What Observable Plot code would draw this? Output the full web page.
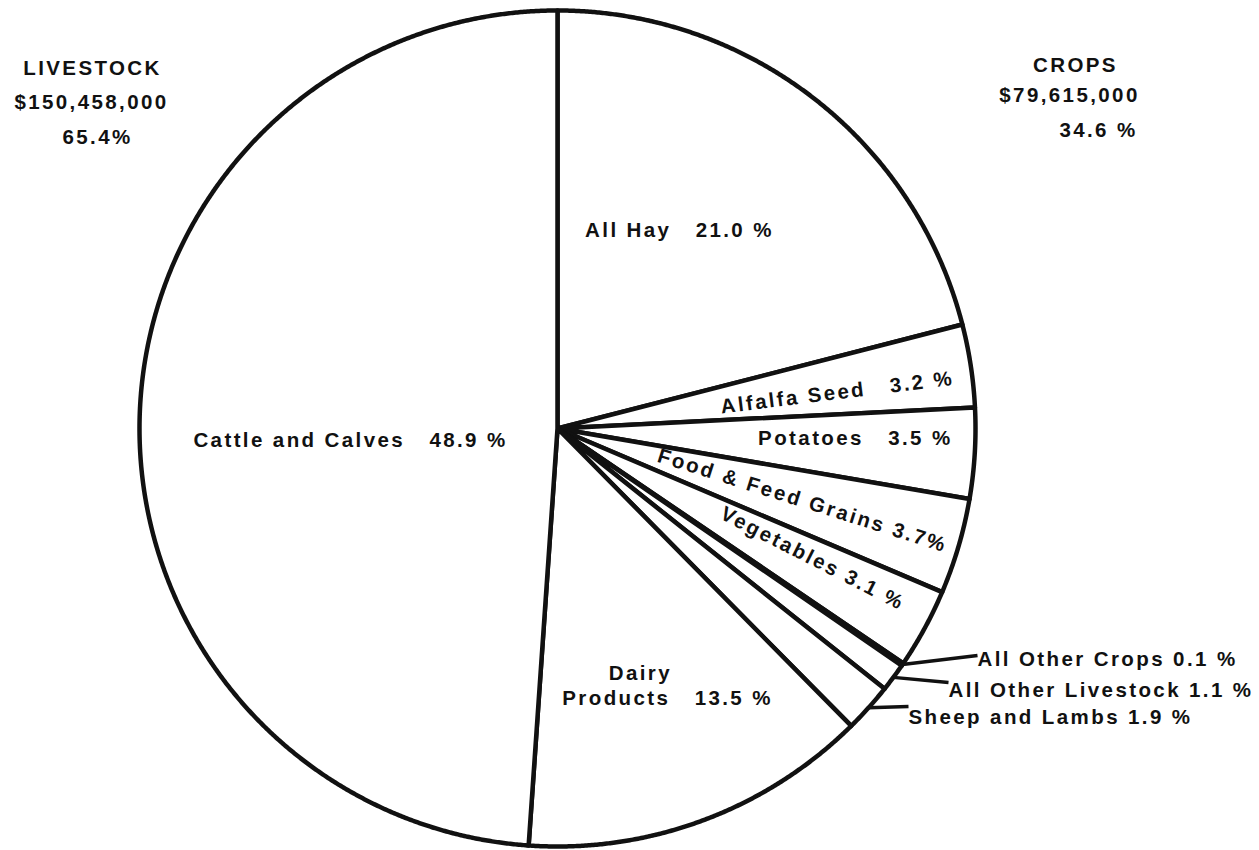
<!DOCTYPE html>
<html>
<head>
<meta charset="utf-8">
<script src="https://cdn.jsdelivr.net/npm/d3@7"></script>
<script src="https://cdn.jsdelivr.net/npm/@observablehq/plot@0.6"></script>
<style>
  body { margin: 0; background: #fff; }
  #chart svg { display: block; }
</style>
</head>
<body>
<div id="chart"></div>
<script>
// ---------- data ----------
const categories = ["All Hay", "Alfalfa Seed", "Potatoes", "Food & Feed Grains", "Vegetables",
  "All Other Crops", "All Other Livestock", "Sheep and Lambs", "Dairy Products", "Cattle and Calves"];
const shares = [21.0, 3.2, 3.5, 3.7, 3.1, 0.1, 1.1, 1.9, 13.5, 48.9];
const sectors = ["Crops", "Crops", "Crops", "Crops", "Crops", "Crops", "Livestock", "Livestock", "Livestock", "Livestock"];
const sliceLabels = ["All Hay\u00a0\u00a0 21.0 %", "Alfalfa Seed\u00a0\u00a0 3.2 %", "Potatoes\u00a0\u00a0 3.5 %",
  "Food & Feed Grains 3.7%", "Vegetables 3.1 %", "All Other Crops 0.1 %", "All Other Livestock 1.1 %",
  "Sheep and Lambs 1.9 %", "Dairy|Products\u00a0\u00a0 13.5 %", "Cattle and Calves\u00a0\u00a0 48.9 %"];
const groupNames = ["LIVESTOCK", "CROPS"];
const groupTotals = ["$150,458,000", "$79,615,000"];
const groupShares = ["65.4%", "34.6 %"];

// ---------- layout ----------
const W = 1259, H = 850;
const CX = 557, CY = 428, R = 418;           // pie centre and radius in pixels
const px = p => (p - CX) / R, py = p => (CY - p) / R;
const deg = Math.PI / 180;

// inside labels: polar placement (angle clockwise from top in degrees, radius fraction), rotation
const insideLayout = {
  "All Hay": [[31.6, 0.557, 0]],
  "Alfalfa Seed": [[82.7, 0.675, -7]],
  "Potatoes": [[92.0, 0.713, 0]],
  "Food & Feed Grains": [[106.4, 0.611, 17.5]],
  "Vegetables": [[117.0, 0.685, 27]],
  "Dairy Products": [[161.3, 0.618, 0], [157.8, 0.697, 0]],
  "Cattle and Calves": [[266.7, 0.496, 0]]
};
// outside labels with leader lines: leader end in pixels, text offset
const outsideLayout = {
  "All Other Crops": {end: [977, 655], dy: 4},
  "All Other Livestock": {end: [948, 682], dy: 8},
  "Sheep and Lambs": {end: [908, 706], dy: 11}
};
const groupLayout = [
  [[92, 68], [91, 102], [97, 137]],
  [[1075, 65], [1069, 95], [1098, 130]]
];

// ---------- build ----------
const data = categories.map((name, i) => ({name, share: shares[i], sector: sectors[i], label: sliceLabels[i]}));
const arcs = d3.pie().sort(null).value(d => d.share)(data);

const polys = arcs.flatMap(a => {
  const pts = [{name: a.data.name, x: 0, y: 0}];
  const n = Math.max(2, Math.ceil((a.endAngle - a.startAngle) / 0.004));
  for (let i = 0; i <= n; i++) {
    const t = a.startAngle + (a.endAngle - a.startAngle) * i / n;
    pts.push({name: a.data.name, x: Math.sin(t), y: Math.cos(t)});
  }
  pts.push({name: a.data.name, x: 0, y: 0});
  return pts;
});

const insideText = arcs.flatMap(a => {
  const lay = insideLayout[a.data.name];
  if (!lay) return [];
  const lines = a.data.label.split("|");
  return lay.map(([ang, rf, rot], k) => ({
    text: lines[k], x: rf * Math.sin(ang * deg), y: rf * Math.cos(ang * deg), rotate: rot
  }));
});

const leaders = arcs.filter(a => outsideLayout[a.data.name]).map(a => {
  const mid = (a.startAngle + a.endAngle) / 2;
  const lay = outsideLayout[a.data.name];
  return {
    text: a.data.label,
    x1: Math.sin(mid), y1: Math.cos(mid),
    x2: px(lay.end[0]), y2: py(lay.end[1]),
    dy: lay.dy
  };
});

const groupText = groupNames.flatMap((g, i) => [g, groupTotals[i], groupShares[i]].map((t, k) => ({
  text: t, x: px(groupLayout[i][k][0]), y: py(groupLayout[i][k][1])
})));

const FS = 20.5;
const fontStyle = {fontFamily: "'Liberation Sans', Arial, sans-serif", fontWeight: "bold", letterSpacing: "2.4px", background: "white"};

const chart = Plot.plot({
  width: W, height: H,
  margin: 0,
  style: fontStyle,
  x: {domain: [px(0), px(W)], range: [0, W], axis: null},
  y: {domain: [py(H), py(0)], range: [H, 0], axis: null},
  marks: [
    Plot.line(polys, {x: "x", y: "y", z: "name", fill: "white", stroke: "#111", strokeWidth: 4.5, strokeLinejoin: "round"}),
    Plot.link(leaders, {x1: "x1", y1: "y1", x2: "x2", y2: "y2", stroke: "#111", strokeWidth: 3.5}),
    Plot.text(insideText, {x: "x", y: "y", text: "text", rotate: "rotate", fontSize: FS, fill: "#111"}),
    ...leaders.map(d => Plot.text([d], {x: "x2", y: "y2", text: "text", textAnchor: "start", dx: 0, dy: d.dy, fontSize: FS, fill: "#111"})),
    Plot.text(groupText, {x: "x", y: "y", text: "text", fontSize: FS, fill: "#111"})
  ]
});
document.getElementById("chart").appendChild(chart);
</script>
</body>
</html>
